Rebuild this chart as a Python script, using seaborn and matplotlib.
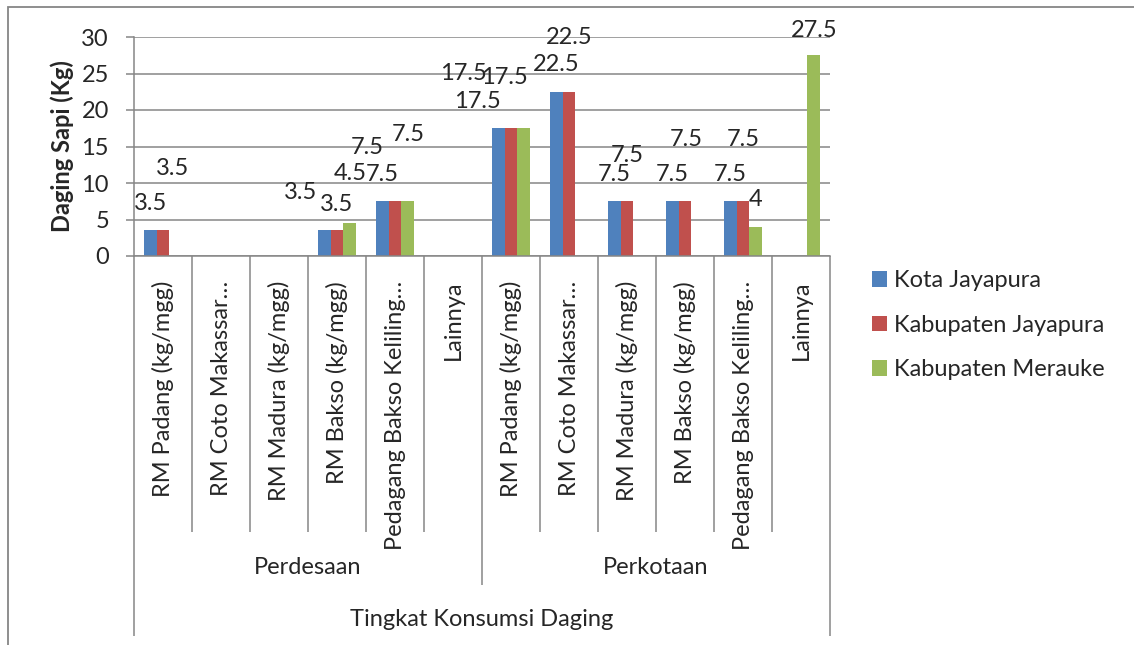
import numpy as np
import pandas as pd
import seaborn as sns
import matplotlib.pyplot as plt
from matplotlib.patches import Rectangle

# ---- data -------------------------------------------------------------
groups = ["Perdesaan", "Perkotaan"]
outlets = ["RM Padang (kg/mgg)", "RM Coto Makassar\u2026", "RM Madura (kg/mgg)",
           "RM Bakso (kg/mgg)", "Pedagang Bakso Keliling\u2026", "Lainnya"]
series = ["Kota Jayapura", "Kabupaten Jayapura", "Kabupaten Merauke"]
nan = np.nan
kota_jayapura = [3.5, nan, nan, 3.5, 7.5, nan, 17.5, 22.5, 7.5, 7.5, 7.5, nan]
kab_jayapura = [3.5, nan, nan, 3.5, 7.5, nan, 17.5, 22.5, 7.5, 7.5, 7.5, nan]
kab_merauke = [nan, nan, nan, 4.5, 7.5, nan, 17.5, nan, nan, nan, 4.0, 27.5]
y_ticks = [0, 5, 10, 15, 20, 25, 30]
y_label = "Daging Sapi (Kg)"
x_title = "Tingkat Konsumsi Daging"
colors = ["#4F81BD", "#C0504D", "#9BBB59"]

# ---- long table ---------------------------------------------------------
keys = [f"{g}|{o}" for g in groups for o in outlets]
rows = []
for name, vals in zip(series, [kota_jayapura, kab_jayapura, kab_merauke]):
    for k, v in zip(keys, vals):
        rows.append({"kategori": k, "wilayah": name, "daging": v})
df = pd.DataFrame(rows)

# ---- style --------------------------------------------------------------
sns.set_style("white")
plt.rcParams["font.family"] = ["Lato", "DejaVu Sans"]
FS = 17
GRID = "#868686"
PX = 0.72  # points per pixel at dpi 100

fig = plt.figure(figsize=(11.34, 6.45), dpi=100)
W, H = 1134, 645
ax = fig.add_axes([134 / W, (H - 256) / H, (830 - 134) / W, (256 - 37) / H])

sns.barplot(data=df, x="kategori", y="daging", hue="wilayah", order=keys,
            hue_order=series, palette=colors, width=0.66, errorbar=None,
            linewidth=0, saturation=1, ax=ax)

ax.set_xlim(-0.5, len(keys) - 0.5)
ax.set_ylim(0, 30)
ax.set_yticks(y_ticks)
ax.set_yticklabels([str(t) for t in y_ticks], fontsize=FS)
ax.yaxis.grid(True, color=GRID, linewidth=1.1)
ax.set_axisbelow(True)
ax.tick_params(axis="y", direction="out", length=8 * PX, width=1.1,
               color=GRID, pad=17 * PX, left=True)
for s in ["top", "right"]:
    ax.spines[s].set_visible(False)
for s in ["left", "bottom"]:
    ax.spines[s].set_color(GRID)
    ax.spines[s].set_linewidth(1.1)

ax.set_xticks(range(len(keys)))
ax.set_xticklabels([k.split("|")[1] for k in keys], rotation=90, fontsize=FS)
ax.tick_params(axis="x", length=0, pad=25 * PX, bottom=True)
ax.set_xlabel("")
ax.set_ylabel(y_label, fontsize=FS, fontweight="bold", ha="center", va="center")
ax.yaxis.set_label_coords(-0.1034, 0.5)

# hierarchical category axis
xt = ax.get_xaxis_transform()
ax_h = 256 - 37
def ax_y(px):
    return (256 - px) / ax_h

n = len(keys)
inner = [i + 0.5 for i in range(n - 1) if i + 1 != len(outlets)]
ax.vlines(inner, ax_y(532), 0, transform=xt, colors=GRID, linewidth=1.1,
          clip_on=False)
ax.vlines([len(outlets) - 0.5], ax_y(585), 0, transform=xt, colors=GRID,
          linewidth=1.1, clip_on=False)
ax.vlines([-0.5, n - 0.5], ax_y(636), 0, transform=xt, colors=GRID,
          linewidth=1.1, clip_on=False)
for gi, g in enumerate(groups):
    cx = gi * len(outlets) + (len(outlets) - 1) / 2
    ax.text(cx, ax_y(568), g, transform=xt, ha="center", va="center",
            fontsize=FS)
ax.text((n - 1) / 2, ax_y(620), x_title, transform=xt, ha="center",
        va="center", fontsize=FS)

# value labels (pixel offsets from the top centre of each bar)
label_shift = {
    (1, 0): (10, 62),
    (0, 3): (-24, 38), (1, 3): (0, 26), (2, 3): (0, 50),
    (1, 4): (-28, 54), (2, 4): (0, 67),
    (0, 6): (-21, 27), (1, 6): (-48, 55), (2, 6): (-19, 51),
    (1, 7): (0, 54),
    (1, 8): (0, 46),
    (1, 9): (1, 62),
    (1, 10): (0, 62),
    (2, 11): (0, 25),
}
for si, cont in enumerate(ax.containers):
    for bar in cont:
        h = bar.get_height()
        if not np.isfinite(h) or h == 0:
            continue
        xc = bar.get_x() + bar.get_width() / 2
        ci = int(round(xc))
        dx, dy = label_shift.get((si, ci), (0, 27))
        ax.annotate(f"{h:g}", (xc, h), xytext=(dx * PX, dy * PX),
                    textcoords="offset points", ha="center", va="center",
                    fontsize=FS, annotation_clip=False)

# legend
handles, labels = ax.get_legend_handles_labels()
ax.get_legend().remove()
fig.legend(handles, labels, loc="upper left",
           bbox_to_anchor=(872 / W, 1 - 270 / H), frameon=False,
           fontsize=FS, handlelength=0.64, handleheight=0.64,
           handletextpad=0.3, labelspacing=1.0, borderaxespad=0,
           borderpad=0)

# outer chart frame
fig.add_artist(Rectangle((8 / W, -0.1), 1.2, 1.1 - 7 / H,
                         transform=fig.transFigure, fill=False,
                         edgecolor=GRID, linewidth=1.3))

fig.savefig("out.png", dpi=100, facecolor="white")
